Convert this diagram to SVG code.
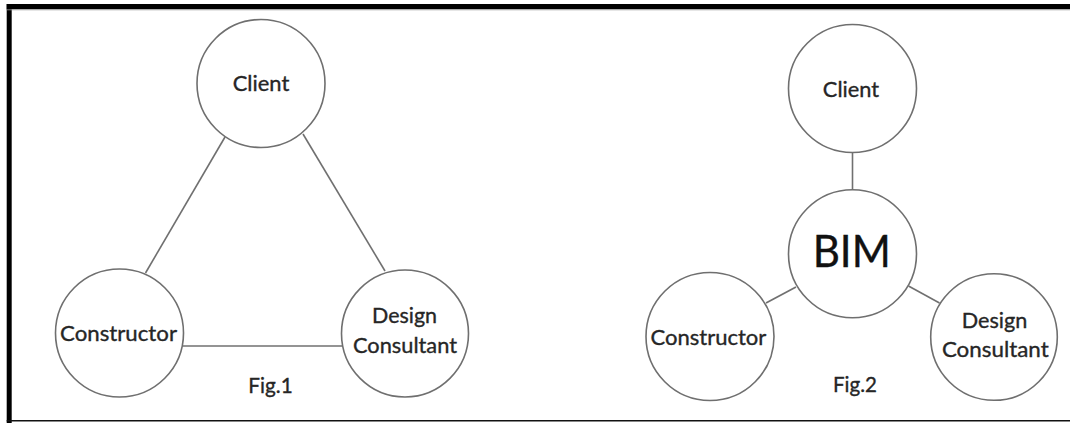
<svg xmlns="http://www.w3.org/2000/svg" width="1070" height="423" viewBox="0 0 1070 423">
<style>
.node{fill:#fff;stroke:#6f6f6f;stroke-width:1.6}
.edge{stroke:#707070;stroke-width:1.6;fill:none}
.t{font-family:Lato,"Open Sans","Liberation Sans",sans-serif;font-size:21.5px;fill:#262626;stroke:#262626;stroke-width:0.35;text-anchor:middle}
.big{font-size:45px;fill:#111;stroke:#111;stroke-width:0.4}
</style>
<rect x="0" y="0" width="1070" height="423" fill="#fff"/>
<g id="frame">
<line x1="6.7" y1="6.7" x2="1070" y2="6.7" stroke="#000" stroke-width="5.3"/>
<line x1="9.2" y1="4" x2="9.2" y2="423" stroke="#000" stroke-width="5"/>
<line x1="6.7" y1="9.8" x2="1070" y2="9.8" stroke="#9a9a9a" stroke-width="0.8"/>
<line x1="6.7" y1="420.8" x2="1070" y2="420.8" stroke="#111" stroke-width="1.5"/>
</g>
<g id="connectors">
<line class="edge" x1="225" y1="137" x2="145.5" y2="273"/>
<line class="edge" x1="303" y1="134" x2="385" y2="271"/>
<line class="edge" x1="183" y1="346" x2="342" y2="346"/>
<line class="edge" x1="852.5" y1="152.5" x2="852.5" y2="190"/>
<line class="edge" x1="796" y1="287" x2="766" y2="303"/>
<line class="edge" x1="908.5" y1="286" x2="939.5" y2="303"/>
</g>
<g id="fig1-client">
<circle class="node" cx="261" cy="83.5" r="64"/>
<text class="t" x="261" y="91" textLength="56.6" lengthAdjust="spacingAndGlyphs">Client</text>
</g>
<g id="fig1-constructor">
<circle class="node" cx="119.5" cy="333" r="64"/>
<text class="t" x="118.5" y="341" textLength="117" lengthAdjust="spacingAndGlyphs">Constructor</text>
</g>
<g id="fig1-design">
<circle class="node" cx="405" cy="333.5" r="63.5"/>
<text class="t" x="404.5" y="323.3" textLength="65" lengthAdjust="spacingAndGlyphs">Design</text>
<text class="t" x="405" y="353.3" textLength="104" lengthAdjust="spacingAndGlyphs">Consultant</text>
</g>
<g id="fig1-label">
<text class="t" x="270.5" y="392.5" textLength="44.4" lengthAdjust="spacingAndGlyphs">Fig.1</text>
</g>
<g id="fig2-client">
<circle class="node" cx="852.5" cy="88.5" r="64"/>
<text class="t" x="851" y="96.5" textLength="56.3" lengthAdjust="spacingAndGlyphs">Client</text>
</g>
<g id="fig2-bim">
<circle class="node" cx="852.5" cy="253.8" r="64"/>
<text class="t big" x="851.7" y="267.3" textLength="78" lengthAdjust="spacingAndGlyphs">BIM</text>
</g>
<g id="fig2-constructor">
<circle class="node" cx="710" cy="336.5" r="64"/>
<text class="t" x="708.4" y="345" textLength="116" lengthAdjust="spacingAndGlyphs">Constructor</text>
</g>
<g id="fig2-design">
<circle class="node" cx="994" cy="337" r="63.3"/>
<text class="t" x="994.5" y="328.3" textLength="65.5" lengthAdjust="spacingAndGlyphs">Design</text>
<text class="t" x="995.3" y="356.7" textLength="106.8" lengthAdjust="spacingAndGlyphs">Consultant</text>
</g>
<g id="fig2-label">
<text class="t" x="855" y="392" textLength="44" lengthAdjust="spacingAndGlyphs">Fig.2</text>
</g>
</svg>
